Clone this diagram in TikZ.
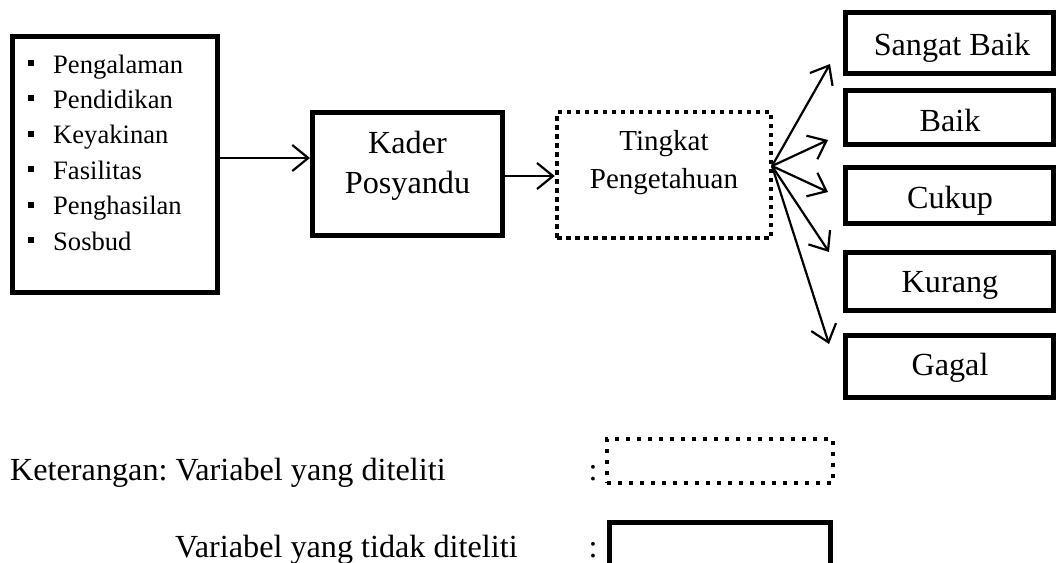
\documentclass[tikz,border=0pt]{standalone}
\usepackage{fontspec}
\setmainfont{Liberation Serif}
\usetikzlibrary{arrows.meta}
\frenchspacing
\begin{document}
\begin{tikzpicture}[x=1pt,y=-1pt,
  solidbox/.style={draw, line width=5pt, inner sep=0pt},
  dotbox/.style={draw, line width=4.5pt, dash pattern=on 4.5pt off 4.5pt, inner sep=0pt},
  legdot/.style={draw, line width=4pt, dash pattern=on 4pt off 7pt, inner sep=0pt},
  arr/.style={line width=2.2pt, -{Straight Barb[length=16pt,width=26pt]}},
  big/.style={font=\fontsize{32.2}{38}\selectfont, inner sep=0pt, anchor=base},
  mid/.style={font=\fontsize{29}{35}\selectfont, inner sep=0pt, anchor=base},
  itemtext/.style={font=\fontsize{26.6}{34}\selectfont, inner sep=0pt, anchor=base west}]
\useasboundingbox (0,0) rectangle (1059,562);

% left box with list
\node[solidbox, minimum width=205pt, minimum height=256pt] (L) at (115,164.5) {};
\foreach \t [count=\i] in {Pengalaman,Pendidikan,Keyakinan,Fasilitas,Penghasilan,Sosbud}
  \node[itemtext] (item\i) at (28,{73+35.4*(\i-1)}) {\rule[7pt]{6pt}{6pt}\hspace{19pt}\t};

% Kader Posyandu
\node[solidbox, minimum width=190pt, minimum height=123pt] (K) at (407.5,174) {};
\node[big] (k1) at (407.5,153) {Kader};
\node[big] (k2) at (407.5,193) {Posyandu};

% Tingkat Pengetahuan
\node[dotbox, minimum width=214pt, minimum height=126pt] (T) at (664,175) {};
\node[mid] (t1) at (664,150) {Tingkat};
\node[mid] (t2) at (664,188) {Pengetahuan};

% right boxes
\node[solidbox, minimum width=208pt, minimum height=61pt] (SB) at (949.5,43) {};
\node[big] (sbt) at (952,55) {Sangat Baik};
\node[solidbox, minimum width=208pt, minimum height=54pt] (B) at (949.5,117.5) {};
\node[big] (bt) at (950,131) {Baik};
\node[solidbox, minimum width=208pt, minimum height=56pt] (C) at (949.5,195.5) {};
\node[big] (ct) at (950,208) {Cukup};
\node[solidbox, minimum width=208pt, minimum height=58pt] (KU) at (949.5,281.5) {};
\node[big] (kut) at (950,292) {Kurang};
\node[solidbox, minimum width=208pt, minimum height=62pt] (G) at (949.5,366.5) {};
\node[big] (gt) at (950,375) {Gagal};

% connectors
\draw[arr] (L.east |- 0,158) -- (K.west |- 0,158);
\draw[arr] (K.east |- 0,176) -- (T.west |- 0,176);
\coordinate (F) at (772,166);
\coordinate (e1) at (830,64);
\coordinate (e2) at (828,140);
\coordinate (e3) at (828,192);
\coordinate (e4) at (829,252);
\coordinate (e5) at (829,344);
\foreach \e in {e1,e2,e3,e4,e5}
  \draw[arr] (F) -- (\e);

% legend
\node[big, anchor=base west] (leg1) at (10,480) {Keterangan: Variabel yang diteliti};
\node[big] (col1) at (593,480) {:};
\node[legdot, minimum width=226pt, minimum height=44pt] (LD) at (720,461) {};
\node[big, anchor=base west] (leg2) at (175,557) {Variabel yang tidak diteliti};
\node[big] (col2) at (593,557) {:};
\node[solidbox, minimum width=221pt, minimum height=45pt] (LS) at (720,545) {};
\end{tikzpicture}
\end{document}
